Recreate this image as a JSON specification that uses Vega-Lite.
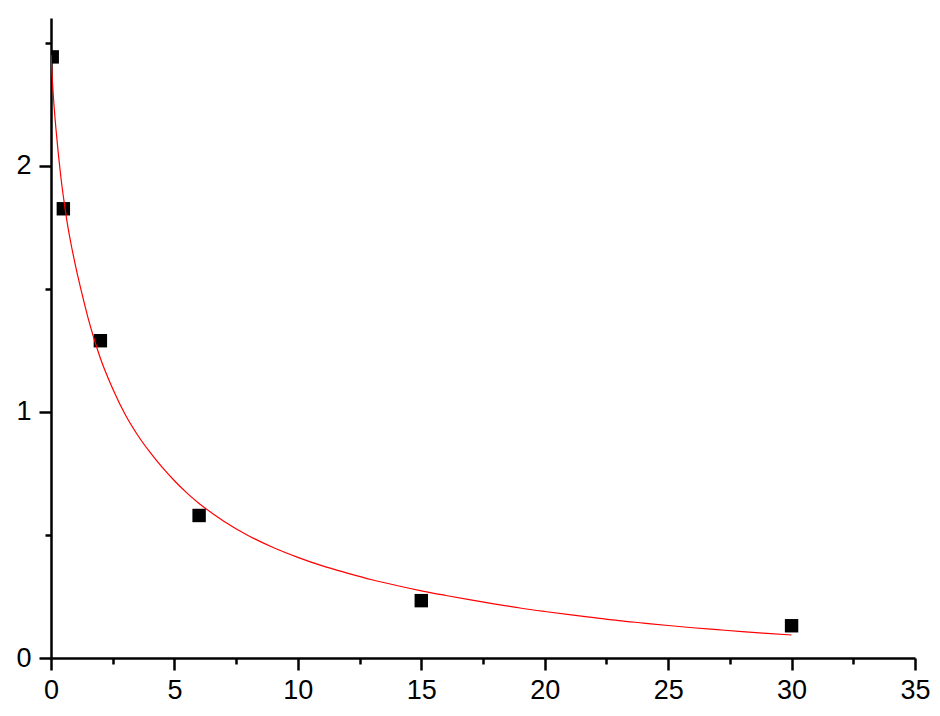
{
  "$schema": "https://vega.github.io/schema/vega-lite/v6.json",
  "width": 864,
  "height": 640,
  "autosize": {"type": "none"},
  "padding": {"left": 51, "top": 18, "right": 25, "bottom": 58},
  "background": "white",
  "config": {
    "view": {"stroke": null},
    "axis": {
      "grid": false,
      "title": null,
      "domainColor": "black",
      "domainWidth": 2.5,
      "tickColor": "black",
      "tickWidth": 2.5,
      "labelColor": "black",
      "labelFont": "Liberation Sans",
      "labelFontSize": 27,
      "labelFlush": false,
      "labelOverlap": false,
      "labelBound": false
    }
  },
  "datasets": {
    "points": [
      {"x": 0.05, "y": 2.442},
      {"x": 0.5, "y": 1.825},
      {"x": 2, "y": 1.289},
      {"x": 6, "y": 0.579},
      {"x": 15, "y": 0.233},
      {"x": 30, "y": 0.131}
    ],
    "curve": [
      {"x": 0, "y": 2.45},
      {"x": 0.05, "y": 2.355},
      {"x": 0.1, "y": 2.275},
      {"x": 0.2, "y": 2.15},
      {"x": 0.3, "y": 2.045},
      {"x": 0.4, "y": 1.953},
      {"x": 0.5, "y": 1.875},
      {"x": 0.6, "y": 1.805},
      {"x": 0.7, "y": 1.742},
      {"x": 0.8, "y": 1.688},
      {"x": 1.0, "y": 1.59},
      {"x": 1.25, "y": 1.482},
      {"x": 1.5, "y": 1.382},
      {"x": 1.75, "y": 1.295},
      {"x": 2.0, "y": 1.218},
      {"x": 2.5, "y": 1.094},
      {"x": 3.0, "y": 0.99},
      {"x": 3.5, "y": 0.907},
      {"x": 4.0, "y": 0.837},
      {"x": 4.5, "y": 0.775},
      {"x": 5.0, "y": 0.72},
      {"x": 5.5, "y": 0.671},
      {"x": 6.0, "y": 0.628},
      {"x": 7.0, "y": 0.556},
      {"x": 8.0, "y": 0.497},
      {"x": 9.0, "y": 0.449},
      {"x": 10.0, "y": 0.409},
      {"x": 11.0, "y": 0.374},
      {"x": 12.0, "y": 0.345},
      {"x": 13.0, "y": 0.318},
      {"x": 14.0, "y": 0.2945},
      {"x": 15.0, "y": 0.273},
      {"x": 16.0, "y": 0.254},
      {"x": 17.0, "y": 0.236},
      {"x": 18.0, "y": 0.219},
      {"x": 19.0, "y": 0.203},
      {"x": 20.0, "y": 0.189},
      {"x": 21.0, "y": 0.176},
      {"x": 22.0, "y": 0.164},
      {"x": 23.0, "y": 0.152},
      {"x": 24.0, "y": 0.142},
      {"x": 25.0, "y": 0.132},
      {"x": 26.0, "y": 0.123},
      {"x": 27.0, "y": 0.115},
      {"x": 28.0, "y": 0.107},
      {"x": 29.0, "y": 0.1},
      {"x": 30.0, "y": 0.0935}
    ]
  },
  "layer": [
    {
      "data": {"name": "points"},
      "mark": {"type": "point", "shape": "square", "filled": true, "size": 180, "color": "black", "opacity": 1, "clip": true},
      "encoding": {
        "x": {
          "field": "x", "type": "quantitative",
          "scale": {"domain": [0, 35], "nice": false, "zero": false},
          "axis": {"orient": "bottom", "values": [0, 5, 10, 15, 20, 25, 30, 35], "format": "d", "tickSize": 12, "labelPadding": 7}
        },
        "y": {
          "field": "y", "type": "quantitative",
          "scale": {"domain": [0, 2.6], "nice": false, "zero": false},
          "axis": {"orient": "left", "values": [0, 1, 2], "format": "d", "tickSize": 12, "labelPadding": 8}
        }
      }
    },
    {
      "data": {"name": "curve"},
      "mark": {"type": "line", "color": "#ff0000", "strokeWidth": 1.2, "interpolate": "monotone", "clip": true},
      "encoding": {
        "x": {
          "field": "x", "type": "quantitative",
          "scale": {"domain": [0, 35], "nice": false, "zero": false},
          "axis": {"orient": "bottom", "values": [2.5, 7.5, 12.5, 17.5, 22.5, 27.5, 32.5], "labels": false, "domain": false, "tickSize": 6}
        },
        "y": {
          "field": "y", "type": "quantitative",
          "scale": {"domain": [0, 2.6], "nice": false, "zero": false},
          "axis": {"orient": "left", "values": [0.5, 1.5, 2.5], "labels": false, "domain": false, "tickSize": 6}
        }
      }
    }
  ],
  "resolve": {"axis": {"x": "independent", "y": "independent"}}
}
